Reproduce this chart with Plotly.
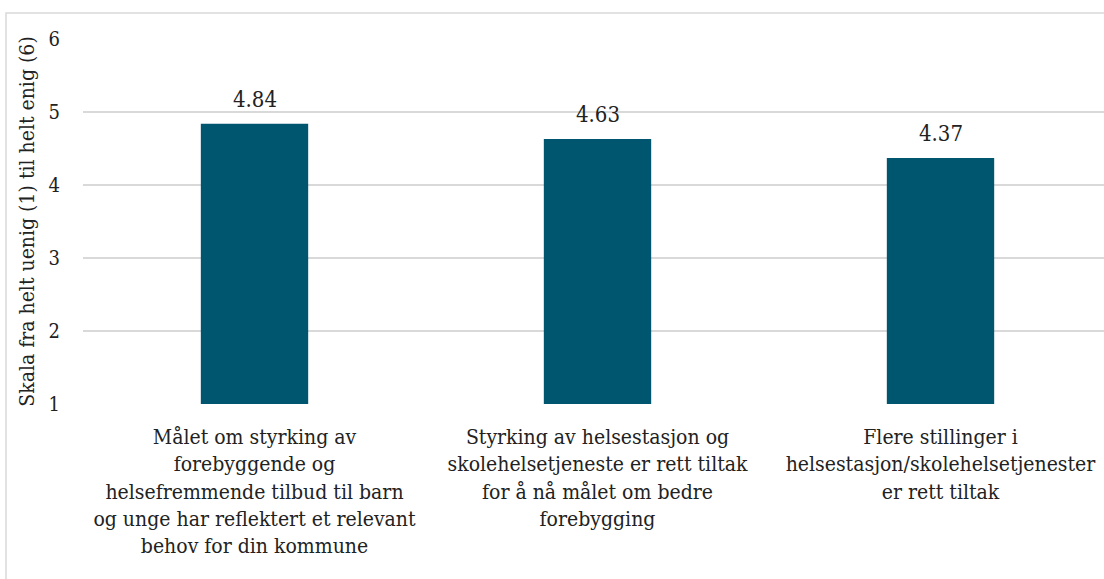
import plotly.graph_objects as go

categories = [
    "Målet om styrking av<br>forebyggende og<br>helsefremmende tilbud til barn<br>og unge har reflektert et relevant<br>behov for din kommune",
    "Styrking av helsestasjon og<br>skolehelsetjeneste er rett tiltak<br>for å nå målet om bedre<br>forebygging",
    "Flere stillinger i<br>helsestasjon/skolehelsetjenester<br>er rett tiltak",
]
values = [4.84, 4.63, 4.37]
y_ticks = [1, 2, 3, 4, 5, 6]
y_title = "Skala fra helt uenig (1) til helt enig (6)"

SERIF_C = "DejaVu Serif Condensed"
W, H = 1104, 579
ml, mr, mt, mb = 83, 0, 39, 175
plot_w = W - ml - mr
plot_h = H - mt - mb
cat_px = 343.0
span = plot_w / cat_px

fig = go.Figure(
    go.Bar(
        x=list(range(len(categories))),
        y=[v - 1 for v in values],
        base=1,
        marker=dict(color="#01566F", line=dict(width=0)),
        width=0.313,
        hoverinfo="skip",
    )
)

# value labels above each bar
for i, v in enumerate(values):
    fig.add_annotation(
        x=i, y=v, text=f"{v:.2f}", showarrow=False,
        yanchor="bottom", yshift=10,
        font=dict(family=SERIF_C, size=22, color="#222222"),
    )

fig.update_layout(
    width=W,
    height=H,
    margin=dict(l=ml, r=mr, t=mt, b=mb),
    paper_bgcolor="white",
    plot_bgcolor="white",
    showlegend=False,
    xaxis=dict(
        range=[-0.5, -0.5 + span],
        tickmode="array",
        tickvals=list(range(len(categories))),
        ticktext=categories,
        tickfont=dict(family=SERIF_C, size=21, color="#222222"),
        showgrid=False,
        zeroline=False,
        showline=False,
        ticks="",
        tickangle=0,
        ticklabelstandoff=18,
    ),
    yaxis=dict(
        range=[1, 6],
        tickmode="array",
        tickvals=y_ticks,
        tickfont=dict(family=SERIF_C, size=20, color="#222222"),
        showgrid=True,
        gridcolor="#D9D9D9",
        gridwidth=1.5,
        zeroline=False,
        showline=False,
        ticks="",
        ticklabelstandoff=22,
        title=dict(text=y_title, font=dict(family=SERIF_C, size=21, color="#222222"), standoff=8),
    ),
    shapes=[
        # outer chart-area frame
        dict(
            type="rect",
            xref="paper",
            yref="paper",
            x0=(6 - ml) / plot_w,
            x1=1.05,
            y0=-(plot_h + 200) / plot_h,
            y1=1 + (39 - 13) / plot_h,
            line=dict(color="#D9D9D9", width=1.5),
            fillcolor="rgba(0,0,0,0)",
            layer="below",
        )
    ],
)

fig.write_html("out.html")
